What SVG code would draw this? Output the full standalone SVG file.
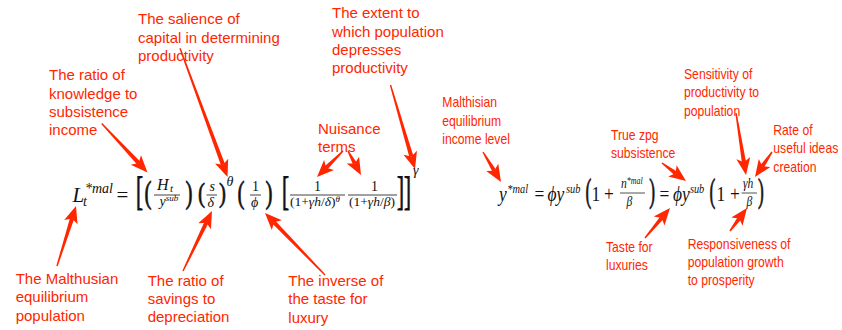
<svg xmlns="http://www.w3.org/2000/svg" xmlns:xlink="http://www.w3.org/1999/xlink" width="842" height="330" viewBox="0 0 842 330">
<style>
.lbl{font-family:"Liberation Sans",Arial,Helvetica,sans-serif;font-size:15px;fill:#ff2600}
.lbn{font-size:14.5px}
.m{font-family:"Liberation Serif","Times New Roman","DejaVu Serif",serif;font-style:italic;fill:#111}
.r{font-family:"Liberation Serif","Times New Roman","DejaVu Serif",serif;font-style:normal;fill:#111}
.i{font-style:italic}
.dl{stroke:#111;stroke-width:0.5}
.fr{stroke:#111;stroke-width:0.8}
.arw{fill:#ff2600}
</style>
<defs>
<path id="ah" d="M0,0 L-17,-7 L-13,0 L-17,7 Z"/>
</defs>
<rect width="842" height="330" fill="#fff"/>

<g id="connectors" class="arw">
<g transform="translate(147.5,172.5) rotate(46.93)"><polygon points="-67.07,-0.7 -13,-2.1 -13,2.1 -67.07,0.7"/><use xlink:href="#ah" href="#ah"/></g>
<g transform="translate(227.5,177) rotate(69.74)"><polygon points="-137.19,-0.7 -13,-2.1 -13,2.1 -137.19,0.7"/><use xlink:href="#ah" href="#ah"/></g>
<g transform="translate(415,169) rotate(73.74)"><polygon points="-87.5,-0.7 -13,-2.1 -13,2.1 -87.5,0.7"/><use xlink:href="#ah" href="#ah"/></g>
<g transform="translate(317,177) rotate(135)"><polygon points="-36.77,-0.7 -13,-2.1 -13,2.1 -36.77,0.7"/><use xlink:href="#ah" href="#ah"/></g>
<g transform="translate(361,175) rotate(61.56)"><polygon points="-27.29,-0.7 -13,-2.1 -13,2.1 -27.29,0.7"/><use xlink:href="#ah" href="#ah"/></g>
<g transform="translate(76,206) rotate(-72.43)"><polygon points="-62.94,-0.7 -13,-2.1 -13,2.1 -62.94,0.7"/><use xlink:href="#ah" href="#ah"/></g>
<g transform="translate(212,211) rotate(-64.2)"><polygon points="-66.64,-0.7 -13,-2.1 -13,2.1 -66.64,0.7"/><use xlink:href="#ah" href="#ah"/></g>
<g transform="translate(265,213) rotate(-134.06)"><polygon points="-86.28,-0.7 -13,-2.1 -13,2.1 -86.28,0.7"/><use xlink:href="#ah" href="#ah"/></g>
<g transform="translate(501,182) rotate(59.04)"><polygon points="-34.99,-0.7 -13,-2.1 -13,2.1 -34.99,0.7"/><use xlink:href="#ah" href="#ah"/></g>
<g transform="translate(686,181) rotate(36.87)"><polygon points="-30,-0.7 -13,-2.1 -13,2.1 -30,0.7"/><use xlink:href="#ah" href="#ah"/></g>
<g transform="translate(746,175) rotate(80.84)"><polygon points="-62.8,-0.7 -13,-2.1 -13,2.1 -62.8,0.7"/><use xlink:href="#ah" href="#ah"/></g>
<g transform="translate(755,177) rotate(124.22)"><polygon points="-30.23,-0.7 -13,-2.1 -13,2.1 -30.23,0.7"/><use xlink:href="#ah" href="#ah"/></g>
<g transform="translate(670,208) rotate(-50.19)"><polygon points="-39.05,-0.7 -13,-2.1 -13,2.1 -39.05,0.7"/><use xlink:href="#ah" href="#ah"/></g>
<g transform="translate(747,208) rotate(-53.53)"><polygon points="-28.6,-0.7 -13,-2.1 -13,2.1 -28.6,0.7"/><use xlink:href="#ah" href="#ah"/></g>
</g>

<g id="eq-left">
<text class="m" x="72.5" y="201.5" font-size="21">L</text>
<text class="m" x="85" y="192.5" font-size="14">*mal</text>
<text class="m" x="83" y="206" font-size="14">t</text>
<text class="r" x="116.5" y="201.5" font-size="21">=</text>
<text class="r dl" font-size="21" transform="translate(136,205.3) scale(1,1.94)">[</text>
<text class="r dl" font-size="21" transform="translate(144.5,202.8) scale(1,1.49)">(</text>
<text class="m" x="157" y="189.5" font-size="16">H<tspan font-size="11" dx="1.5" dy="2.5">t</tspan></text>
<line class="fr" x1="154" y1="195" x2="180" y2="195"/>
<text class="m" x="159.5" y="206" font-size="14">y<tspan font-size="9" dy="-5">sub</tspan></text>
<text class="r dl" font-size="21" transform="translate(185.5,202.8) scale(1,1.49)">)</text>
<text class="r dl" font-size="21" transform="translate(198,201.7) scale(1,1.34)">(</text>
<text class="m" x="209.5" y="190.5" font-size="14">s</text>
<line class="fr" x1="206.5" y1="195" x2="217" y2="195"/>
<text class="m" x="207.5" y="206.5" font-size="14">δ</text>
<text class="r dl" font-size="21" transform="translate(219,201.7) scale(1,1.34)">)</text>
<text class="m" x="226.5" y="186" font-size="14">θ</text>
<text class="r dl" font-size="21" transform="translate(237.5,202.8) scale(1,1.49)">(</text>
<text class="r" x="252" y="190.5" font-size="14">1</text>
<line class="fr" x1="250" y1="195" x2="261" y2="195"/>
<text class="m" x="251" y="206.5" font-size="14">ϕ</text>
<text class="r dl" font-size="21" transform="translate(265.5,202.8) scale(1,1.49)">)</text>
<text class="r dl" font-size="21" transform="translate(282,205.3) scale(1,1.94)">[</text>
<text class="r" x="314" y="191" font-size="14">1</text>
<line class="fr" x1="290" y1="195" x2="345" y2="195"/>
<text class="r" x="290" y="206" font-size="13.5">(1+<tspan class="i">γh</tspan>/<tspan class="i">δ</tspan>)<tspan class="i" font-size="9" dy="-4.5">θ</tspan></text>
<text class="r" x="371" y="191" font-size="14">1</text>
<line class="fr" x1="348" y1="195" x2="397" y2="195"/>
<text class="r" x="349" y="206" font-size="13.5">(1+<tspan class="i">γh</tspan>/<tspan class="i">β</tspan>)</text>
<text class="r dl" font-size="21" transform="translate(397,205.3) scale(1,1.94)">]</text>
<text class="r dl" font-size="21" transform="translate(404,205.3) scale(1,1.94)">]</text>
<text class="m" x="413" y="175" font-size="14">γ</text>
</g>

<g id="eq-right" transform="translate(499,0) scale(0.83,1)">
<text class="m" x="0" y="201" font-size="21">y</text>
<text class="m" x="10" y="193" font-size="12.5">*mal</text>
<text class="r" x="42.8" y="201" font-size="21">=</text>
<text class="m" x="58.4" y="201" font-size="21">ϕy</text>
<text class="m" x="80.7" y="193" font-size="12.5">sub</text>
<text class="r dl" font-size="21" transform="translate(104.2,202.1) scale(1,1.58)">(</text>
<text class="r" x="111.4" y="201" font-size="21">1</text>
<text class="r" x="126.5" y="201" font-size="21">+</text>
<text class="m" x="147" y="188.5" font-size="14">n<tspan font-size="9.5" dy="-4">*mal</tspan></text>
<line class="fr" x1="145.8" y1="193" x2="175.9" y2="193"/>
<text class="m" x="153.6" y="206" font-size="14">β</text>
<text class="r dl" font-size="21" transform="translate(181,202.1) scale(1,1.58)">)</text>
<text class="r" x="193.4" y="201" font-size="21">=</text>
<text class="m" x="209.6" y="201" font-size="21">ϕy</text>
<text class="m" x="230" y="193" font-size="12.5">sub</text>
<text class="r dl" font-size="21" transform="translate(253.6,202.1) scale(1,1.58)">(</text>
<text class="r" x="262" y="201" font-size="21">1</text>
<text class="r" x="278.3" y="201" font-size="21">+</text>
<text class="m" x="294" y="188.5" font-size="14">γh</text>
<line class="fr" x1="292.2" y1="193" x2="310.8" y2="193"/>
<text class="m" x="298.2" y="206" font-size="14">β</text>
<text class="r dl" font-size="21" transform="translate(312,202.1) scale(1,1.58)">)</text>
</g>

<g id="lbl-knowledge"><text class="lbl"><tspan x="49" y="80.3">The ratio of</tspan><tspan x="49" y="98.7">knowledge to</tspan><tspan x="49" y="117">subsistence</tspan><tspan x="49" y="135.3">income</tspan></text></g>
<g id="lbl-salience"><text class="lbl"><tspan x="138" y="24.3">The salience of</tspan><tspan x="138" y="42.7">capital in determining</tspan><tspan x="138" y="61">productivity</tspan></text></g>
<g id="lbl-extent"><text class="lbl"><tspan x="332" y="18.3">The extent to</tspan><tspan x="332" y="36.7">which population</tspan><tspan x="332" y="55">depresses</tspan><tspan x="332" y="73.3">productivity</tspan></text></g>
<g id="lbl-nuisance"><text class="lbl"><tspan x="318" y="134">Nuisance</tspan><tspan x="318" y="152.3">terms</tspan></text></g>
<g id="lbl-malthusian-pop"><text class="lbl"><tspan x="15.7" y="284">The Malthusian</tspan><tspan x="15.7" y="302.3">equilibrium</tspan><tspan x="15.7" y="320.7">population</tspan></text></g>
<g id="lbl-savings"><text class="lbl"><tspan x="147.7" y="285.7">The ratio of</tspan><tspan x="147.7" y="304">savings to</tspan><tspan x="147.7" y="322.3">depreciation</tspan></text></g>
<g id="lbl-inverse"><text class="lbl"><tspan x="288.3" y="286">The inverse of</tspan><tspan x="288.3" y="304.3">the taste for</tspan><tspan x="288.3" y="322.7">luxury</tspan></text></g>

<g id="lbl-income" transform="translate(442.3,0) scale(0.84,1)"><text class="lbl lbn"><tspan x="0" y="107.3">Malthisian</tspan><tspan x="0" y="125.7">equilibrium</tspan><tspan x="0" y="144">income level</tspan></text></g>
<g id="lbl-sensitivity" transform="translate(684,0) scale(0.84,1)"><text class="lbl lbn"><tspan x="0" y="79">Sensitivity of</tspan><tspan x="0" y="97.3">productivity to</tspan><tspan x="0" y="115.7">population</tspan></text></g>
<g id="lbl-zpg" transform="translate(611,0) scale(0.84,1)"><text class="lbl lbn"><tspan x="0" y="140">True zpg</tspan><tspan x="0" y="158.4">subsistence</tspan></text></g>
<g id="lbl-rate" transform="translate(773.3,0) scale(0.84,1)"><text class="lbl lbn"><tspan x="0" y="135">Rate of</tspan><tspan x="0" y="153.4">useful ideas</tspan><tspan x="0" y="171.8">creation</tspan></text></g>
<g id="lbl-taste" transform="translate(606,0) scale(0.84,1)"><text class="lbl lbn"><tspan x="0" y="252">Taste for</tspan><tspan x="0" y="270.4">luxuries</tspan></text></g>
<g id="lbl-responsiveness" transform="translate(687.7,0) scale(0.84,1)"><text class="lbl lbn"><tspan x="0" y="248.7">Responsiveness of</tspan><tspan x="0" y="267">population growth</tspan><tspan x="0" y="285.3">to prosperity</tspan></text></g>
</svg>
